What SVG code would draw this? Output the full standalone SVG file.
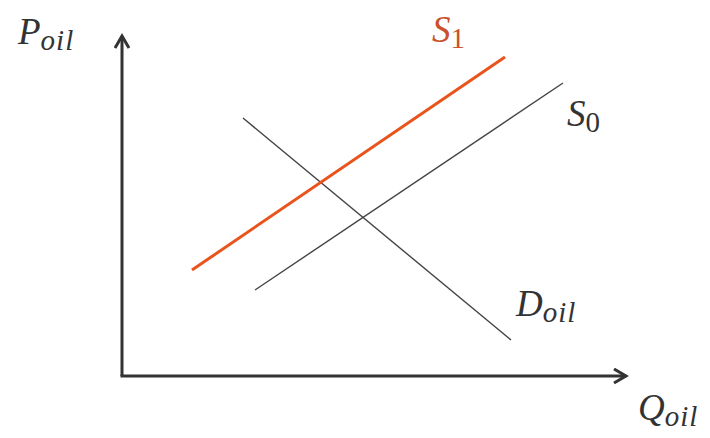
<svg xmlns="http://www.w3.org/2000/svg" width="710" height="438" viewBox="0 0 710 438">
<style>
.lbl{font-family:"Liberation Serif","DejaVu Serif",serif;font-style:italic;font-size:37px;fill:#333}
.sub{font-size:29px;letter-spacing:1px}
.up{font-style:normal}
.axis{stroke:#333;stroke-width:3;fill:none}
.curve{stroke:#444;stroke-width:1.4;fill:none}
</style>
<defs>
<marker id="arr" markerWidth="20" markerHeight="20" refX="14" refY="8" orient="auto" markerUnits="userSpaceOnUse">
<path d="M2,1 L14,8 L2,15" fill="none" stroke="#333" stroke-width="3"/>
</marker>
</defs>
<rect width="710" height="438" fill="#fff"/>
<g id="connectors">
<path class="axis" d="M122,376 L122,36" marker-end="url(#arr)"/>
<path class="axis" d="M120.5,376 L626,376" marker-end="url(#arr)"/>
<line class="curve" x1="243" y1="118" x2="511" y2="340"/>
<line class="curve" x1="255" y1="290" x2="563" y2="83"/>
<line x1="192" y1="270" x2="505" y2="57" stroke="#E8541C" stroke-width="3"/>
</g>
<g id="label-p"><text class="lbl" x="18" y="44">P<tspan class="sub" dy="6">oil</tspan></text></g>
<g id="label-s1"><text class="lbl" x="432" y="42" style="fill:#C9512B">S<tspan class="sub up" dy="6">1</tspan></text></g>
<g id="label-s0"><text class="lbl" x="567" y="126">S<tspan class="sub up" dy="6">0</tspan></text></g>
<g id="label-d"><text class="lbl" x="516" y="316">D<tspan class="sub" dy="6">oil</tspan></text></g>
<g id="label-q"><text class="lbl" x="638" y="420">Q<tspan class="sub" dy="6">oil</tspan></text></g>
</svg>
